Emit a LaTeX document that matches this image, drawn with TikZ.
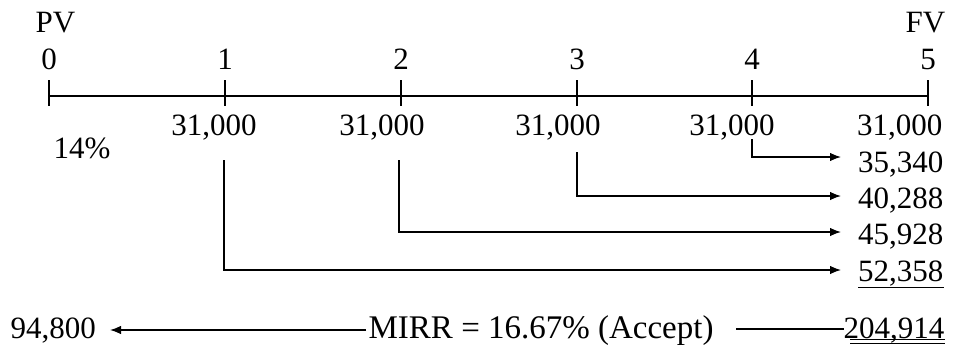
\documentclass[tikz,border=0pt]{standalone}
\usepackage{fontspec}
\setmainfont{Liberation Serif}
\usetikzlibrary{arrows.meta}
\begin{document}
\begin{tikzpicture}[x=1pt,y=-1pt, line width=1.3pt,
  lbl/.style={inner sep=0pt, font=\fontsize{31}{36}\selectfont},
  arr/.style={-{Latex[length=11pt,width=8.5pt]}},
  ul/.style={line width=1.1pt}]
\useasboundingbox (0,0) rectangle (958,345);
% header labels
\node[lbl, anchor=base west] (pv) at (35,33) {PV};
\node[lbl, anchor=base east] (fv) at (946,33) {FV};
% timeline
\coordinate (t0) at (49,96);
\coordinate (t1) at (225,96);
\coordinate (t2) at (401,96);
\coordinate (t3) at (577,96);
\coordinate (t4) at (752,96);
\coordinate (t5) at (928,96);
\draw (t0) -- (t5);
\foreach \i in {0,...,5}{
  \draw ([yshift=16pt]t\i) -- ([yshift=-10pt]t\i);
  \node[lbl, anchor=base] (n\i) at ([yshift=26pt]t\i) {\i};
}
% cash flows
\node[lbl, anchor=base] (c1) at (214,135) {31,000};
\node[lbl, anchor=base] (c2) at (382,135) {31,000};
\node[lbl, anchor=base] (c3) at (558,135) {31,000};
\node[lbl, anchor=base] (c4) at (732,135) {31,000};
\node[lbl, anchor=base east] (c5) at (943,135) {31,000};
\node[lbl, anchor=base west] (rate) at (53,158) {14\%};
% future values
\node[lbl, anchor=base east] (f4) at (944,172) {35,340};
\node[lbl, anchor=base east] (f3) at (944,208) {40,288};
\node[lbl, anchor=base east] (f2) at (944,244) {45,928};
\node[lbl, anchor=base east] (f1) at (944,281) {52,358};
\draw[ul] (858,287.5) -- (944,287.5);
% compounding arrows
\coordinate (s4) at (752,139);
\coordinate (s3) at (577,152);
\coordinate (s2) at (399,160);
\coordinate (s1) at (224,160);
\coordinate (e4) at (841,157);
\coordinate (e3) at (841,196);
\coordinate (e2) at (841,232);
\coordinate (e1) at (841,270);
\draw[arr] (s4) |- (e4);
\draw[arr] (s3) |- (e3);
\draw[arr] (s2) |- (e2);
\draw[arr] (s1) |- (e1);
% bottom row
\node[lbl, anchor=base west] (pvv) at (10,338) {94,800};
\node[lbl, anchor=base west, font=\fontsize{33}{38}\selectfont] (mirr) at (368,338) {MIRR = 16.67\% (Accept)};
\node[lbl, anchor=base east] (tv) at (945,338) {204,914};
\draw[ul] (850,339.5) -- (945,339.5);
\draw[ul] (850,343.6) -- (945,343.6);
\coordinate (a0) at (366,330);
\coordinate (a1) at (110,330);
\coordinate (b0) at (736,329);
\coordinate (b1) at (844,329);
\draw[arr] (a0) -- (a1);
\draw (b0) -- (b1);
\end{tikzpicture}
\end{document}
